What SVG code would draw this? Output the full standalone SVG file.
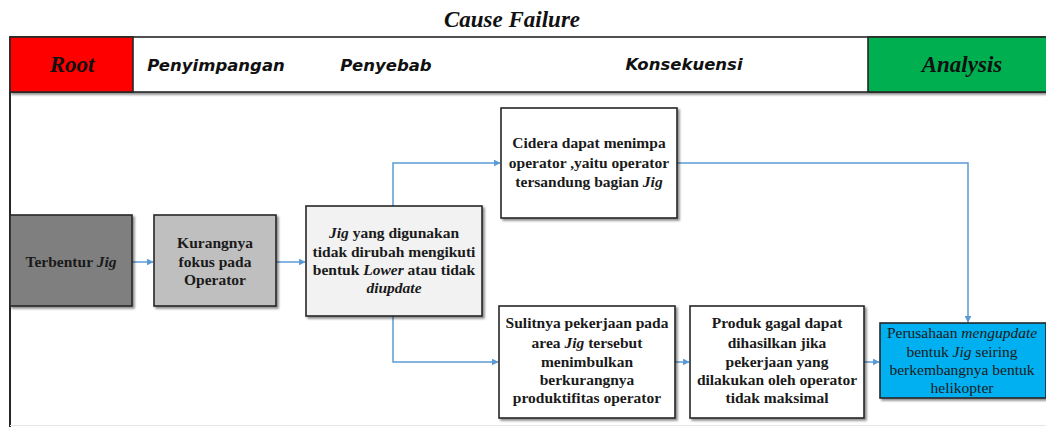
<svg xmlns="http://www.w3.org/2000/svg" width="1046" height="427" viewBox="0 0 1046 427">
  <defs>
    <marker id="arrow" viewBox="0 0 10 10" refX="9" refY="5" markerWidth="7" markerHeight="7" orient="auto" markerUnits="userSpaceOnUse">
      <path d="M0,0 L10,5 L0,10 z" fill="#5b9bd5"/>
    </marker>
    <filter id="shadow" x="-10%" y="-10%" width="130%" height="130%">
      <feGaussianBlur in="SourceAlpha" stdDeviation="1.2"/>
      <feOffset dx="2" dy="2" result="b"/>
      <feComponentTransfer><feFuncA type="linear" slope="0.45"/></feComponentTransfer>
      <feMerge><feMergeNode/><feMergeNode in="SourceGraphic"/></feMerge>
    </filter>
  </defs>
  <style>
    .box { stroke: #262626; stroke-width: 1.6; filter: url(#shadow); }
    .t { font-family: "Liberation Serif", serif; font-weight: bold; font-size: 15.5px; fill: #1a1a1a; text-anchor: middle; }
    .tl { font-family: "Liberation Serif", serif; font-size: 15.5px; fill: #1a1a1a; text-anchor: middle; }
    .hdr { font-family: "DejaVu Sans", sans-serif; font-weight: bold; font-style: italic; font-size: 16.5px; fill: #111; text-anchor: middle; }
    .hdrs { font-family: "Liberation Serif", serif; font-weight: bold; font-style: italic; font-size: 23px; fill: #111; text-anchor: middle; }
    .conn { fill: none; stroke: #5b9bd5; stroke-width: 1.5; }
  </style>

  <rect width="1046" height="427" fill="#ffffff"/>

  <!-- title -->
  <text x="512" y="27" class="hdrs" font-size="22">Cause Failure</text>

  <!-- header band -->
  <g id="header">
    <rect x="10" y="37" width="1040" height="55" fill="#ffffff" stroke="#262626" stroke-width="1.6" filter="url(#shadow)"/>
    <rect x="10" y="37" width="123" height="55" fill="#ff0000" stroke="#262626" stroke-width="1.6"/>
    <rect x="868" y="37" width="182" height="55" fill="#00b050" stroke="#262626" stroke-width="1.6"/>
    <text x="72" y="72" class="hdrs">Root</text>
    <text x="216" y="71" class="hdr">Penyimpangan</text>
    <text x="386" y="71" class="hdr">Penyebab</text>
    <text x="684" y="70" class="hdr">Konsekuensi</text>
    <text x="962" y="72" class="hdrs">Analysis</text>
  </g>

  <!-- frame -->
  <line x1="10" y1="92" x2="10" y2="427" stroke="#262626" stroke-width="2"/>
  <line x1="10" y1="425.5" x2="1046" y2="425.5" stroke="#e6e6e6" stroke-width="1"/>

  <!-- connectors -->
  <g id="connectors">
    <path class="conn" d="M132,262 H153" marker-end="url(#arrow)"/>
    <path class="conn" d="M276,262 H305" marker-end="url(#arrow)"/>
    <path class="conn" d="M393,206 V163 H500" marker-end="url(#arrow)"/>
    <path class="conn" d="M393,316 V362 H498" marker-end="url(#arrow)"/>
    <path class="conn" d="M675,362 H689" marker-end="url(#arrow)"/>
    <path class="conn" d="M864,362 H879" marker-end="url(#arrow)"/>
    <path class="conn" d="M677,163 H968 V322" marker-end="url(#arrow)"/>
  </g>

  <g id="terbentur">
    <rect class="box" x="10" y="215" width="122" height="91" fill="#7f7f7f"/>
    <text class="t" x="71" y="267">Terbentur <tspan font-style="italic">Jig</tspan></text>
  </g>

  <g id="kurangnya">
    <rect class="box" x="154" y="215" width="122" height="91" fill="#bfbfbf"/>
    <text class="t" x="215" y="248">Kurangnya</text>
    <text class="t" x="215" y="267">fokus pada</text>
    <text class="t" x="215" y="285">Operator</text>
  </g>

  <g id="jig-lower">
    <rect class="box" x="306" y="206" width="176" height="110" fill="#f2f2f2"/>
    <text class="t" x="394" y="238"><tspan font-style="italic">Jig</tspan> yang digunakan</text>
    <text class="t" x="394" y="257">tidak dirubah mengikuti</text>
    <text class="t" x="394" y="275">bentuk <tspan font-style="italic">Lower</tspan> atau tidak</text>
    <text class="t" x="394" y="293" font-style="italic">diupdate</text>
  </g>

  <g id="cidera">
    <rect class="box" x="501" y="108" width="176" height="110" fill="#ffffff"/>
    <text class="t" x="589" y="148">Cidera dapat menimpa</text>
    <text class="t" x="589" y="168">operator ,yaitu operator</text>
    <text class="t" x="589" y="187">tersandung bagian <tspan font-style="italic">Jig</tspan></text>
  </g>

  <g id="sulitnya">
    <rect class="box" x="499" y="306" width="176" height="112" fill="#ffffff"/>
    <text class="t" x="587" y="328">Sulitnya pekerjaan pada</text>
    <text class="t" x="587" y="348">area <tspan font-style="italic">Jig</tspan> tersebut</text>
    <text class="t" x="587" y="367">menimbulkan</text>
    <text class="t" x="587" y="385">berkurangnya</text>
    <text class="t" x="587" y="403">produktifitas operator</text>
  </g>

  <g id="produk">
    <rect class="box" x="690" y="306" width="174" height="112" fill="#ffffff"/>
    <text class="t" x="777" y="328">Produk gagal dapat</text>
    <text class="t" x="777" y="348">dihasilkan jika</text>
    <text class="t" x="777" y="367">pekerjaan yang</text>
    <text class="t" x="777" y="385">dilakukan oleh operator</text>
    <text class="t" x="777" y="403">tidak maksimal</text>
  </g>

  <g id="perusahaan">
    <rect class="box" x="880" y="323" width="166" height="75" fill="#00b0f0"/>
    <text class="tl" x="962" y="338">Perusahaan <tspan font-style="italic">mengupdate</tspan></text>
    <text class="tl" x="962" y="357">bentuk <tspan font-style="italic">Jig</tspan> seiring</text>
    <text class="tl" x="962" y="375">berkembangnya bentuk</text>
    <text class="tl" x="962" y="393">helikopter</text>
  </g>
</svg>
